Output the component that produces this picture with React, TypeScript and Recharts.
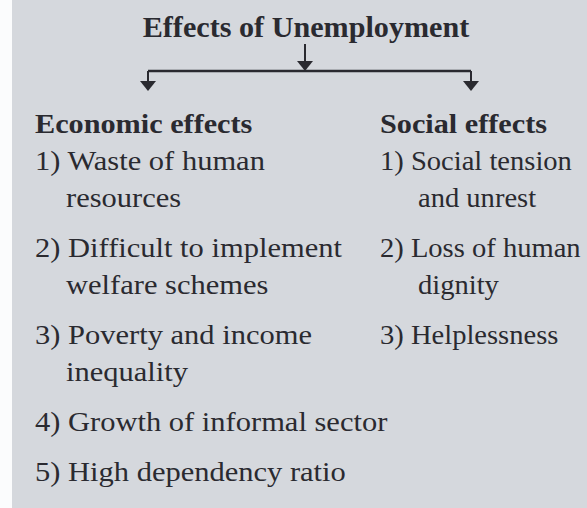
import { ScatterChart, Scatter, XAxis, YAxis, ReferenceLine } from 'recharts';

const title = 'Effects of Unemployment';
const branchTitles = ['Economic effects', 'Social effects'];
const economicEffects = [
  ['Waste of human', 'resources'],
  ['Difficult to implement', 'welfare schemes'],
  ['Poverty and income', 'inequality'],
  ['Growth of informal sector'],
  ['High dependency ratio'],
];
const socialEffects = [
  ['Social tension', 'and unrest'],
  ['Loss of human', 'dignity'],
  ['Helplessness'],
];

const W = 587;
const H = 508;
const INK = '#2a2a30';
const BG = '#d5d8dd';
const FONT = "'Liberation Serif', 'Times New Roman', serif";

// layout (px in chart space)
const TITLE_X = 306;
const TITLE_Y = 37;
const COL_X = [35, 380];
const INDENT = [31, 38];
const ITEM_SX = [1.09, 1.02];
const HEADER_Y = 133;
const FIRST_GAP = 37;
const WRAP_GAP = 37;
const ITEM_GAP = 50;
const BRANCH_Y = 71;
const ARROW_X = [148, 471];
const ARROW_TIP = 91;

type Row = { x: number; y: number; text: string; bold: boolean; size: number; sx: number; anchor: string };

function columnRows(col: number, header: string, items: string[][]): Row[] {
  const rows: Row[] = [{ x: COL_X[col], y: HEADER_Y, text: header, bold: true, size: 28, sx: 1.08, anchor: 'start' }];
  let y = HEADER_Y;
  items.forEach((lines, i) => {
    y += i === 0 ? FIRST_GAP : ITEM_GAP;
    rows.push({ x: COL_X[col], y, text: `${i + 1}) ${lines[0]}`, bold: false, size: 28, sx: ITEM_SX[col], anchor: 'start' });
    lines.slice(1).forEach((l) => {
      y += WRAP_GAP;
      rows.push({ x: COL_X[col] + INDENT[col], y, text: l, bold: false, size: 28, sx: ITEM_SX[col], anchor: 'start' });
    });
  });
  return rows;
}

const textRows: Row[] = [
  { x: TITLE_X, y: TITLE_Y, text: title, bold: true, size: 29, sx: 1.04, anchor: 'middle' },
  ...columnRows(0, branchTitles[0], economicEffects),
  ...columnRows(1, branchTitles[1], socialEffects),
];

const arrowHeads = [
  { x: TITLE_X - 1, y: BRANCH_Y },
  { x: ARROW_X[0], y: ARROW_TIP },
  { x: ARROW_X[1], y: ARROW_TIP },
];

const TextShape = (p: any) => {
  const d = p.payload as Row;
  return (
    <text
      transform={`translate(${p.cx},${p.cy}) scale(${d.sx},1)`}
      textAnchor={d.anchor as any}
      fontFamily={FONT}
      fontSize={d.size}
      fontWeight={d.bold ? 700 : 400}
      fill={INK}
    >
      {d.text}
    </text>
  );
};

const ArrowHead = (p: any) => (
  <path d={`M${p.cx - 8},${p.cy - 10} L${p.cx + 8},${p.cy - 10} L${p.cx},${p.cy} Z`} fill={INK} />
);

export default function App() {
  return (
    <div style={{ position: 'absolute', left: 0, top: 0, width: W, height: H, background: '#fbfcfd' }}>
      <div style={{ position: 'absolute', left: 12, top: 0, right: 0, bottom: 0, background: BG }} />
      <div style={{ position: 'absolute', left: 0, top: 0 }}>
        <ScatterChart width={W} height={H} margin={{ top: 0, right: 0, bottom: 0, left: 0 }}>
          <XAxis type="number" dataKey="x" domain={[0, W]} hide />
          <YAxis type="number" dataKey="y" domain={[0, H]} reversed hide />
          <ReferenceLine segment={[{ x: TITLE_X - 1, y: 44 }, { x: TITLE_X - 1, y: BRANCH_Y - 6 }]} stroke={INK} strokeWidth={2} ifOverflow="visible" />
          <ReferenceLine segment={[{ x: ARROW_X[0], y: BRANCH_Y }, { x: ARROW_X[1], y: BRANCH_Y }]} stroke={INK} strokeWidth={2.5} ifOverflow="visible" />
          <ReferenceLine segment={[{ x: ARROW_X[0], y: BRANCH_Y }, { x: ARROW_X[0], y: ARROW_TIP - 6 }]} stroke={INK} strokeWidth={2} ifOverflow="visible" />
          <ReferenceLine segment={[{ x: ARROW_X[1], y: BRANCH_Y }, { x: ARROW_X[1], y: ARROW_TIP - 6 }]} stroke={INK} strokeWidth={2} ifOverflow="visible" />
          <Scatter data={arrowHeads} shape={ArrowHead} isAnimationActive={false} />
          <Scatter data={textRows} shape={TextShape} isAnimationActive={false} />
        </ScatterChart>
      </div>
    </div>
  );
}
